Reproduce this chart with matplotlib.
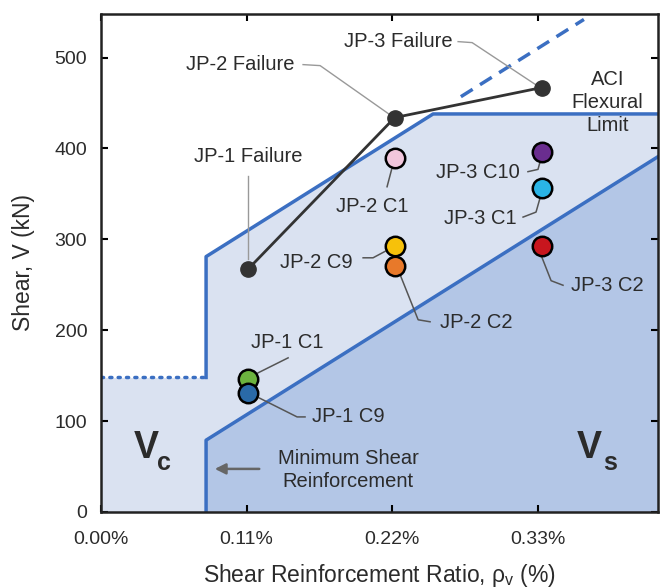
import matplotlib.pyplot as plt
import numpy as np

plt.rcParams['font.family'] = ['Liberation Sans', 'DejaVu Sans']
plt.rcParams['mathtext.fontset'] = 'custom'
plt.rcParams['mathtext.rm'] = 'Liberation Sans'
plt.rcParams['mathtext.bf'] = 'Liberation Sans:bold'

# shear reinforcement ratio (%) and shear capacity (kN)
tick_ratio = [0.0, 0.11, 0.22, 0.33]
tick_labels = ["0.00%", "0.11%", "0.22%", "0.33%"]
x_max = 0.421

# Vc + Vs upper boundary (capped by flexural limit)
upper_x = [0.0794, 0.0794, 0.251, x_max]
upper_v = [148, 281, 438, 438]
vc_only = 148
ext_x = [0.272, 0.365]
ext_v = [457, 542]
# Vs boundary
vs_x = [0.0794, 0.0794, x_max]
vs_v = [0, 79, 391]

# failure points
fail_x = [0.111, 0.222, 0.333]
fail_v = [267, 434, 467]
fail_names = ["JP-1 Failure", "JP-2 Failure", "JP-3 Failure"]

# crack / load stage points
pt_names = ["JP-1 C1", "JP-1 C9", "JP-2 C1", "JP-2 C9", "JP-2 C2",
            "JP-3 C10", "JP-3 C1", "JP-3 C2"]
pt_x = [0.111, 0.111, 0.222, 0.222, 0.222, 0.333, 0.333, 0.333]
pt_v = [146, 131, 390, 293, 271, 396, 357, 293]
pt_colors = ["#6cb33f", "#2a6aa8", "#f2c6dc", "#f7c10a", "#e8792a",
             "#6a2d8f", "#2ab4e6", "#c8161e"]

light = "#dae2f1"
dark = "#b3c6e6"
blue = "#3b6fc2"
ink = "#2b2b2b"

fig = plt.figure(figsize=(6.66, 5.88), dpi=100)
ax = fig.add_axes([0.1517, 0.1293, 0.8363, 0.8469])

# regions
fx = [0.0] + upper_x
fv = [vc_only] + upper_v
ax.fill_between(fx, 0, fv, color=light, lw=0, zorder=0)
ax.fill_between(vs_x[1:], 0, vs_v[1:], color=dark, lw=0, zorder=1)
ax.fill_between(vs_x[:2], 0, vs_v[:2], color=dark, lw=0, zorder=1)

ax.plot([0.0, upper_x[0]], [vc_only, vc_only], color=blue, lw=2.5,
        ls=(0, (0.6, 1.8)), dash_capstyle='round', zorder=2)
ax.plot(upper_x, upper_v, color=blue, lw=2.5, zorder=2)
ax.plot(ext_x, ext_v, color=blue, lw=2.5, ls=(0, (4, 2.5)), zorder=2)
ax.plot(vs_x, vs_v, color=blue, lw=2.5, zorder=2)

# failure path
ax.plot(fail_x, fail_v, color="#333333", lw=2, marker='o', ms=11, zorder=4)

for x, v, c in zip(pt_x, pt_v, pt_colors):
    ax.plot(x, v, 'o', ms=14, mfc=c, mec='black', mew=1.8, zorder=5)

# leaders
lead_k = dict(color="#555555", lw=1.1, zorder=3)
lead_f = dict(color="#999999", lw=1.0, zorder=3)
ax.plot([0.111, 0.111], [370, 278], **lead_f)
ax.plot([0.1527, 0.1656, 0.2185], [492.3, 491.2, 437], **lead_f)
ax.plot([0.2699, 0.2805, 0.3296], [517.6, 516.5, 469.2], **lead_f)
ax.plot([0.2200, 0.2162], [378.9, 357.9], **lead_k)
ax.plot([0.1981, 0.2056, 0.2155], [279.7, 279.7, 287.4], **lead_k)
ax.plot([0.2261, 0.2397, 0.2487], [261, 211.5, 209.3], **lead_k)
ax.plot([0.1187, 0.1414], [153.1, 169.6], **lead_k)
ax.plot([0.1179, 0.1482, 0.1542], [126.7, 104.6, 104.6], **lead_k)
ax.plot([0.3325, 0.3303, 0.3227], [389, 377, 374.5], **lead_k)
ax.plot([0.3325, 0.3288, 0.3190], [349, 330, 324.5], **lead_k)
ax.plot([0.3325, 0.3402, 0.3492], [283, 254.5, 249.5], **lead_k)

fs = 14.5
tk = dict(fontsize=fs, color=ink, ha='center', va='center', zorder=6)
ax.text(0.111, 391, fail_names[0], **tk)
ax.text(0.1051, 492, fail_names[1], **tk)
ax.text(0.2245, 517.6, fail_names[2], **tk)
ax.text(0.3826, 450.4, "ACI\nFlexural\nLimit", linespacing=1.25, **tk)
ax.text(0.1406, 186.1, pt_names[0], **tk)
ax.text(0.1867, 104.6, pt_names[1], **tk)
ax.text(0.2049, 335.9, pt_names[2], **tk)
ax.text(0.1625, 274.2, pt_names[3], **tk)
ax.text(0.2835, 208.1, pt_names[4], **tk)
ax.text(0.2850, 373.5, pt_names[5], **tk)
ax.text(0.2865, 322.5, pt_names[6], **tk)
ax.text(0.3830, 249.5, pt_names[7], **tk)
ax.text(0.1867, 46.3, "Minimum Shear\nReinforcement", linespacing=1.3, **tk)
ax.annotate("", xy=(0.0839, 47.4), xytext=(0.1217, 47.4),
            arrowprops=dict(arrowstyle='-|>', color="#666666", lw=1.8,
                            mutation_scale=16), zorder=6)

ax.text(0.0340, 70.5, "V", fontsize=27, fontweight='bold', color=ink,
        ha='center', va='center')
ax.text(0.0476, 54, "c", fontsize=18, fontweight='bold', color=ink,
        ha='center', va='center')
ax.text(0.3689, 70.5, "V", fontsize=27, fontweight='bold', color=ink,
        ha='center', va='center')
ax.text(0.3848, 54, "s", fontsize=18, fontweight='bold', color=ink,
        ha='center', va='center')

ax.set_xlim(0, x_max)
ax.set_ylim(0, 548)
ax.set_xticks(tick_ratio)
ax.set_xticklabels(tick_labels)
ax.set_yticks([0, 100, 200, 300, 400, 500])
ax.tick_params(direction='in', length=5, width=1.5, labelsize=14,
               labelcolor=ink, pad=10, top=True, right=True)
ax.tick_params(axis='x', pad=14)
for s in ax.spines.values():
    s.set_linewidth(1.8)
    s.set_color("#222222")
    s.set_zorder(7)

ax.set_xlabel(r"Shear Reinforcement Ratio, ρ$_\mathregular{v}$ (%)",
              fontsize=16.5, color=ink, labelpad=10)
ax.set_ylabel("Shear, V (kN)", fontsize=16.5, color=ink, labelpad=14)

fig.savefig("out.png", dpi=100)
